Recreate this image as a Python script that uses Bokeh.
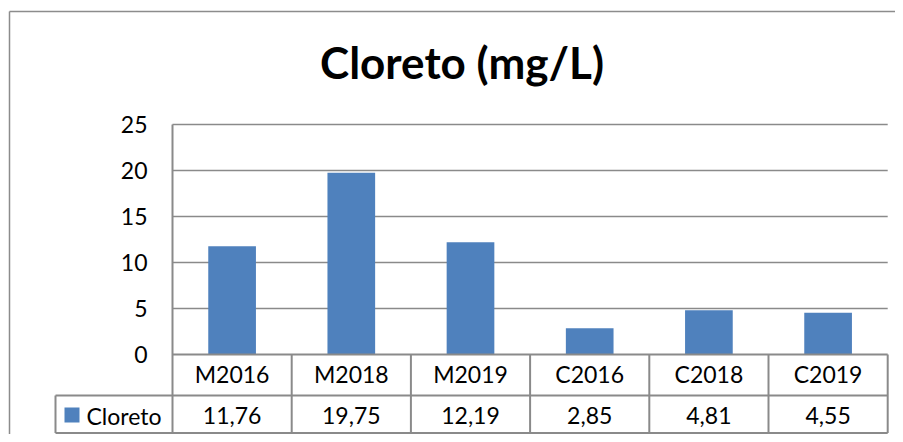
from bokeh.plotting import figure
from bokeh.models import Range1d, LinearAxis, FixedTicker
from bokeh.core.properties import value
from bokeh.embed import file_html
from bokeh.resources import INLINE

# ---- data ----
categories = ["M2016", "M2018", "M2019", "C2016", "C2018", "C2019"]
cloreto = [11.76, 19.75, 12.19, 2.85, 4.81, 4.55]
y_ticks = [0, 5, 10, 15, 20, 25]
series_name = "Cloreto"
title_text = "Cloreto (mg/L)"

# ---- layout (canvas pixels) ----
W, H = 895, 434
COL_PX = 119.2          # width of one category column
UNIT_PX = 9.2           # pixels per mg/L
AX_X, AX_Y = 172, 354   # canvas position of the data origin


def dx(px):
    return (px - AX_X) / COL_PX


def dy(py):
    return (AX_Y - py) / UNIT_PX


FONT = "Lato"
FS = "23px"
BAR = "#4F81BD"
LINE = "#8A8A8A"
n = len(categories)

p = figure(width=W, height=H, output_backend="svg", toolbar_location=None,
           x_axis_type=None, y_axis_type=None,
           x_range=Range1d(dx(0), dx(W)), y_range=Range1d(dy(H), dy(0)),
           min_border=0, outline_line_color=None,
           background_fill_color="white", border_fill_color="white")

# outer chart border (left and top visible)
p.segment(x0=[dx(9), dx(9)], y0=[dy(11), dy(11)], x1=[dx(W), dx(9)], y1=[dy(11), dy(H)],
          line_color="#8C8C8C", line_width=1.5)

# horizontal gridlines
grid_vals = y_ticks[1:]
p.segment(x0=[0] * len(grid_vals), y0=grid_vals, x1=[n] * len(grid_vals), y1=grid_vals,
          line_color=LINE, line_width=1.5)

# bars
xs = [i + 0.5 for i in range(n)]
p.vbar(x=xs, top=cloreto, bottom=0, width=0.4, fill_color=BAR, line_color=None)

# data table lines
row1 = dy(395)
row2 = dy(432.5)
leg_left = dx(55)
# vertical axis line through plot and table
p.segment(x0=[0], y0=[y_ticks[-1]], x1=[0], y1=[row2], line_color=LINE, line_width=2)
# column dividers inside table
cols = list(range(1, n + 1))
p.segment(x0=cols, y0=[0] * len(cols), x1=cols, y1=[row2] * len(cols),
          line_color=LINE, line_width=2)
# legend cell left border
p.segment(x0=[leg_left], y0=[row1], x1=[leg_left], y1=[row2], line_color=LINE, line_width=2)
# horizontal table lines
p.segment(x0=[0, leg_left, leg_left], y0=[0, row1, row2], x1=[n, n, n], y1=[0, row1, row2],
          line_color=LINE, line_width=2)

# value row
vals_txt = [f"{v:.2f}".replace(".", ",") for v in cloreto]
p.text(x=xs, y=[dy(415.3)] * n, text=vals_txt, text_align="center",
       text_baseline="middle", text_font=value(FONT), text_font_size=FS,
       text_color="black")

# legend key in table
p.scatter(x=[dx(71.5)], y=[dy(414.5)], marker="square", size=15,
          fill_color=BAR, line_color=None)
p.text(x=[dx(86)], y=[dy(415.3)], text=[series_name], text_align="left",
       text_baseline="middle", text_font=value(FONT), text_font_size=FS,
       text_color="black")

# y axis at the plot origin
yaxis = LinearAxis(fixed_location=0, ticker=FixedTicker(ticks=y_ticks),
                   axis_line_color=None, major_tick_line_color=None,
                   minor_tick_line_color=None, major_tick_out=0, major_tick_in=0,
                   major_label_standoff=25, major_label_text_font=FONT,
                   major_label_text_font_size=FS, major_label_text_color="black")
p.add_layout(yaxis, "left")

# category axis (first table row)
xaxis = LinearAxis(fixed_location=0, ticker=FixedTicker(ticks=xs),
                   major_label_overrides={x: c for x, c in zip(xs, categories)},
                   axis_line_color=None, major_tick_line_color=None,
                   minor_tick_line_color=None, major_tick_out=0, major_tick_in=0,
                   major_label_standoff=5, major_label_text_font=FONT,
                   major_label_text_font_size=FS, major_label_text_color="black")
p.add_layout(xaxis, "below")

# title
p.text(x=[dx(461.5)], y=[dy(61)], text=[title_text], text_align="center",
       text_baseline="middle", text_font=value(FONT), text_font_style="bold",
       text_font_size="44px", text_color="black")

open("out.html", "w").write(file_html(p, INLINE))
